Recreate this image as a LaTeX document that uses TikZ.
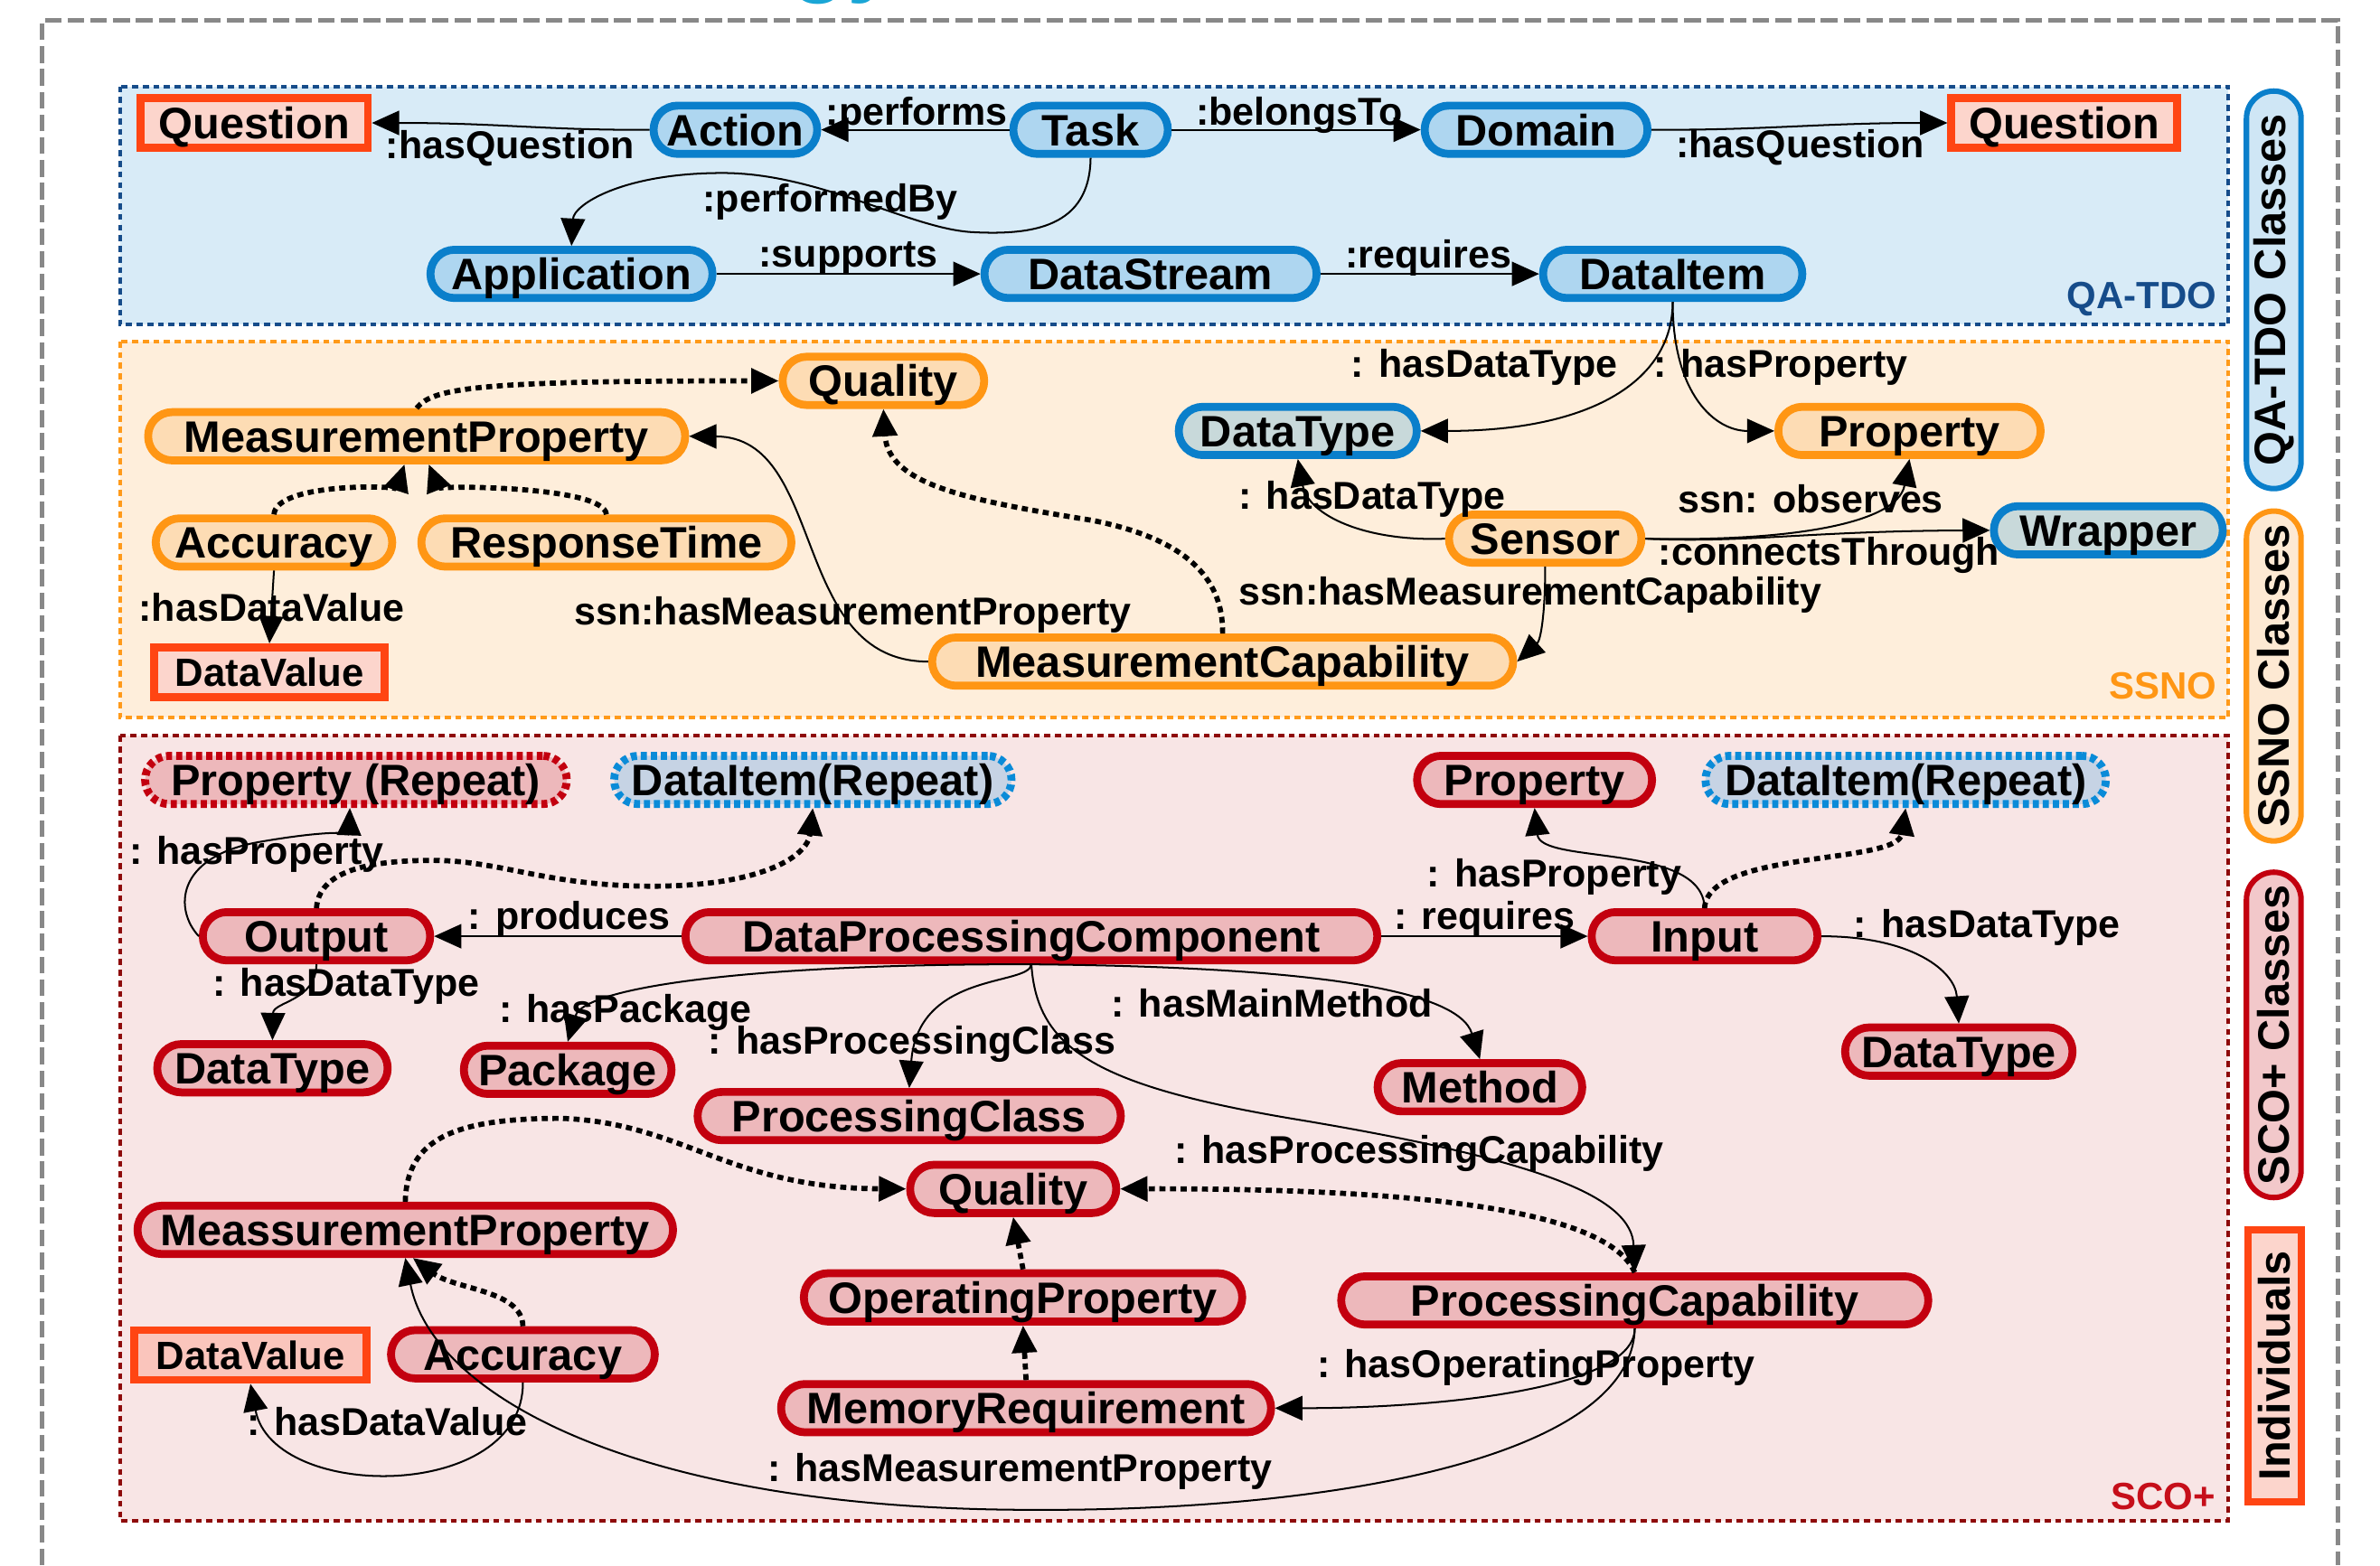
\documentclass[tikz,border=0pt]{standalone}
\usepackage{fontspec}
\setmainfont{Liberation Sans}
\usetikzlibrary{arrows.meta,calc}

\definecolor{blueB}{HTML}{0A7FCB}
\definecolor{blueF}{HTML}{AED6F0}
\definecolor{grayF}{HTML}{C8D9DA}
\definecolor{orangeB}{HTML}{FF9614}
\definecolor{orangeF}{HTML}{FDDCB4}
\definecolor{redB}{HTML}{C3000F}
\definecolor{redF}{HTML}{EDB8BB}
\definecolor{indB}{HTML}{FF4513}
\definecolor{indF}{HTML}{FCD5CC}
\definecolor{indFb}{HTML}{FAC5BC}
\definecolor{panB}{HTML}{D8EBF7}
\definecolor{panO}{HTML}{FEEEDB}
\definecolor{panR}{HTML}{F8E5E5}
\definecolor{panBline}{HTML}{164C8A}
\definecolor{panOline}{HTML}{FF9A1A}
\definecolor{panRline}{HTML}{8E0A0A}
\definecolor{scoText}{HTML}{C60F1A}
\definecolor{diRepF}{HTML}{C6D3E4}
\definecolor{diRepB}{HTML}{0A8BD8}
\definecolor{cyanT}{HTML}{1AA6D6}
\definecolor{frameG}{HTML}{888888}
\definecolor{legB}{HTML}{CFE6F5}
\definecolor{legO}{HTML}{FDE9D3}
\definecolor{legR}{HTML}{F2C8CA}

\tikzset{
  nd/.style={rectangle, rounded corners=7.9pt, line width=2.6pt, minimum height=15.9pt,
    inner sep=0pt, font=\fontsize{14.5}{16}\selectfont\bfseries, text height=10.4pt, text depth=0pt},
  bnode/.style={nd, draw=blueB, fill=blueF},
  gnode/.style={nd, draw=blueB, fill=grayF},
  onode/.style={nd, draw=orangeB, fill=orangeF},
  rnode/.style={nd, draw=redB, fill=redF},
  prnode/.style={nd, draw=redB, fill=redF, dash pattern=on 2pt off 1.3pt},
  dinode/.style={nd, draw=diRepB, fill=diRepF, dash pattern=on 2pt off 1.3pt},
  qnode/.style={rectangle, line width=2.6pt, draw=indB, fill=indF, minimum height=16.4pt,
    inner sep=0pt, font=\fontsize{14.5}{16}\selectfont\bfseries, text height=10.4pt, text depth=0pt},
  dvnode/.style={qnode, font=\fontsize{13}{15}\selectfont\bfseries, text height=9.3pt},
  lbl/.style={inner sep=0pt, font=\fontsize{12.8}{14}\selectfont\bfseries},
  plabel/.style={inner sep=0pt, font=\fontsize{12.5}{14}\selectfont\bfseries},
  rel/.style={line width=0.6pt, -{Triangle[length=9pt,width=8pt]}},
  drel/.style={line width=1.7pt, dash pattern=on 2pt off 1.5pt, -{Triangle[length=9pt,width=8pt]}},
  pdot/.style={line width=1.2pt, dash pattern=on 2pt off 1.5pt},
  legend/.style={rotate=90, rectangle, rounded corners=9pt, line width=1.8pt, minimum height=18pt,
    inner sep=0pt, font=\fontsize{14.5}{16}\selectfont\bfseries},
}

\begin{document}
\begin{tikzpicture}[x=0.5pt, y=-0.5pt]
\useasboundingbox (0,0) rectangle (1568,1031.45);

% title fragment at the top (cut off by the picture edge, as in the reference)
\begin{scope}
\clip (0,0) rectangle (1568,1031.45);
\node[anchor=base west, inner sep=0pt, text=cyanT, font=\fontsize{30}{30}\selectfont\bfseries] (ttl) at (521,-10) {gy};
\end{scope}

% outer frame
\draw[frameG, line width=1.5pt, dash pattern=on 5.5pt off 2pt] (27.5,1031.45) |- (1540.5,13.5) -- (1540.5,1031.45);

% panels
\fill[panB] (79,57) rectangle (1468,214);
\draw[panBline, pdot] (79,57) rectangle (1468,214);
\fill[panO] (79,225) rectangle (1468,473);
\draw[panOline, pdot] (79,225) rectangle (1468,473);
\fill[panR] (79,485) rectangle (1468,1002);
\draw[panRline, pdot] (79,485) rectangle (1468,1002);

\node[plabel, text=panBline] (tqa) at (1411,197) {QA-TDO};
\node[plabel, text=orangeB] (tssno) at (1425,452) {SSNO};
\node[plabel, text=scoText] (tsco) at (1425,986) {SCO+};

% legend
\node[legend, draw=blueB, fill=legB, minimum width=131pt] (lgqa) at (1498,191) {QA-TDO Classes};
\node[legend, draw=orangeB, fill=legO, minimum width=108.7pt] (lgssno) at (1498,445.5) {SSNO Classes};
\node[legend, draw=redB, fill=legR, minimum width=107.2pt] (lgsco) at (1498,682) {SCO+ Classes};
\node[legend, rounded corners=0pt, line width=2.4pt, draw=indB, fill=indF, minimum width=89.6pt, minimum height=17.4pt] (lgind) at (1498.5,900) {Individuals};

% ---------- QA-TDO nodes
\node[qnode, minimum width=74.9pt] (q1) at (167.5,81) {Question};
\node[bnode, minimum width=53.9pt] (action) at (484.5,85.5) {Action};
\node[bnode, minimum width=50.9pt] (task) at (718.5,85.5) {Task};
\node[bnode, minimum width=73.4pt] (domain) at (1012,85.5) {Domain};
\node[qnode, minimum width=74.4pt] (q2) at (1360,81) {Question};
\node[bnode, minimum width=92.9pt] (app) at (376.5,180.5) {Application};
\node[bnode, minimum width=109.4pt] (ds) at (758,180.5) {DataStream};
\node[bnode, minimum width=85.4pt] (di) at (1102,180.5) {DataItem};

% ---------- SSNO nodes
\node[onode, minimum width=66.4pt] (qual) at (582,251) {Quality};
\node[onode, minimum width=176.9pt] (mp) at (274.5,287.5) {MeasurementProperty};
\node[onode, minimum width=77.9pt] (acc) at (180.5,357.5) {Accuracy};
\node[onode, minimum width=121.9pt] (rt) at (399.5,357.5) {ResponseTime};
\node[dvnode, minimum width=75.9pt] (dv) at (177.5,443) {DataValue};
\node[onode, minimum width=191.4pt] (mc) at (805.5,436) {MeasurementCapability};
\node[gnode, minimum width=78.4pt] (dt1) at (855,284) {DataType};
\node[onode, minimum width=86.4pt] (prop) at (1258,284) {Property};
\node[onode, minimum width=63.4pt] (sensor) at (1018,355) {Sensor};
\node[gnode, minimum width=75.4pt] (wrapper) at (1389,349.5) {Wrapper};

% ---------- SCO+ nodes
\node[prnode, minimum width=138.9pt] (prr) at (234.5,514) {Property (Repeat)};
\node[dinode, minimum width=130.9pt] (dir) at (535.5,514) {DataItem(Repeat)};
\node[rnode, minimum width=77.4pt] (prop2) at (1011,514) {Property};
\node[dinode, minimum width=131.9pt] (dir2) at (1255.5,514) {DataItem(Repeat)};
\node[rnode, minimum width=74.9pt] (output) at (208.5,617) {Output};
\node[rnode, minimum width=227.9pt] (dpc) at (679.5,617) {DataProcessingComponent};
\node[rnode, minimum width=74.4pt] (input) at (1123,617) {Input};
\node[rnode, minimum width=75.9pt] (dtL) at (179.5,704) {DataType};
\node[rnode, minimum width=68.4pt] (pkg) at (374,705) {Package};
\node[rnode, minimum width=139.4pt] (pc) at (599,735.5) {ProcessingClass};
\node[rnode, minimum width=67.4pt] (method) at (975,716.5) {Method};
\node[rnode, minimum width=74.9pt] (dtR) at (1290.5,693) {DataType};
\node[rnode, minimum width=67.9pt] (qual2) at (667.5,783.5) {Quality};
\node[rnode, minimum width=176.4pt] (mpS) at (267,810.5) {MeassurementProperty};
\node[rnode, minimum width=144.4pt] (op) at (674,855) {OperatingProperty};
\node[rnode, minimum width=193.4pt] (pcap) at (1077,857) {ProcessingCapability};
\node[dvnode, fill=indFb, minimum width=76.4pt] (dvS) at (165,893) {DataValue};
\node[rnode, minimum width=86.9pt] (accS) at (344.5,892.5) {Accuracy};
\node[rnode, minimum width=161.4pt] (mr) at (676,928) {MemoryRequirement};

% ---------- QA-TDO edges
\draw[rel] (action.west) .. controls (360,86) and (330,81) .. (q1.east);
\draw[rel] (task.west) -- (action.east);
\draw[rel] (task.east) -- (domain.west);
\draw[rel] (domain.east) .. controls (1160,86) and (1200,81) .. (q2.west);
\draw[rel] (task.south) .. controls (718,150) and (680,155) .. (641,153)
   .. controls (600,151) and (540,114) .. (476,114)
   .. controls (410,114) and (378,135) .. (app.north);
\draw[rel] (app.east) -- (ds.west);
\draw[rel] (ds.east) -- (di.west);

% ---------- SSNO edges
\draw[rel] (di.south) .. controls (1102,250) and (1050,284) .. (dt1.east);
\draw[rel] (di.south) .. controls (1102,260) and (1130,284) .. (prop.west);
\draw[rel] (sensor.west) .. controls (900,357) and (862,340) .. (dt1.south);
\draw[rel] (sensor.east) .. controls (1180,357) and (1250,345) .. (prop.south);
\draw[rel] (sensor.east) .. controls (1150,358) and (1190,350) .. (wrapper.west);
\draw[rel] (sensor.south) .. controls (1018,405) and (1015,422) .. (mc.east);
\draw[rel] (mc.west) .. controls (520,436) and (545,288) .. (mp.east);
\draw[drel] (mp.north) .. controls (285,255) and (320,251) .. (qual.west);
\draw[drel] (acc.north) .. controls (182,318) and (262,320) .. ($(mp.south)+(-8,0)$);
\draw[drel] (rt.north) .. controls (398,320) and (288,320) .. ($(mp.south)+(8,0)$);
\draw[rel] (acc.south) -- (dv.north);
\draw[drel] (mc.north) .. controls (806,380) and (780,355) .. (720,343)
   .. controls (640,330) and (585,320) .. (qual.south);

% ---------- SCO+ edges
\draw[rel] (dpc.west) -- (output.east);
\draw[rel] (output.west) .. controls (115,600) and (115,565) .. (170,555)
   .. controls (210,548) and (230,548) .. ($(prr.south)+(-4,0)$);
\draw[drel] (output.north) .. controls (210,575) and (240,567) .. (285,567)
   .. controls (330,567) and (360,584) .. (430,584)
   .. controls (500,584) and (532,565) .. (dir.south);
\draw[rel] (output.south) .. controls (208,660) and (180,660) .. (dtL.north);
\draw[rel] (dpc.east) -- (input.west);
\draw[rel] (input.north) .. controls (1122,555) and (1015,570) .. (prop2.south);
\draw[drel] (input.north) .. controls (1125,560) and (1250,570) .. (dir2.south);
\draw[rel] (input.east) .. controls (1260,617) and (1288,640) .. (dtR.north);
\draw[rel] (dpc.south) .. controls (500,635) and (385,650) .. (pkg.north);
\draw[rel] (dpc.south) .. controls (678,650) and (605,640) .. (pc.north);
\draw[rel] (dpc.south) .. controls (850,637) and (960,650) .. (method.north);
\draw[rel] (dpc.south) .. controls (683,690) and (720,715) .. (850,737)
   .. controls (1020,765) and (1075,790) .. (pcap.north);
\draw[drel] (mpS.north) .. controls (268,750) and (300,737) .. (370,737)
   .. controls (450,740) and (480,783) .. (qual2.west);
\draw[drel] (pcap.north) .. controls (1060,800) and (950,783) .. (qual2.east);
\draw[drel] (op.north) -- (qual2.south);
\draw[drel] (mr.north) -- (op.south);
\draw[rel] (pcap.south) .. controls (1077,915) and (950,928) .. (mr.east);
\draw[rel] (pcap.south) .. controls (1075,960) and (880,996) .. (680,995)
   .. controls (420,995) and (285,920) .. (mpS.south);
\draw[drel] (accS.north) .. controls (344,850) and (300,850) .. ($(mpS.south)+(5,0)$);
\draw[rel] (accS.south) .. controls (345,990) and (180,990) .. (dvS.south);

% ---------- labels
\node[lbl] (lhq1) at (336,98) {:hasQuestion};
\node[lbl] (lperf) at (604,76) {:performs};
\node[lbl] (lbel) at (856,76) {:belongsTo};
\node[lbl] (lhq2) at (1186,97) {:hasQuestion};
\node[lbl] (lpb) at (547,133) {:performedBy};
\node[lbl] (lsup) at (559,170) {:supports};
\node[lbl] (lreq) at (941,170) {:requires};
\node[lbl] (lhdt1) at (978,242) {: hasDataType};
\node[lbl] (lhp1) at (1173,242) {: hasProperty};
\node[lbl] (lhdt2) at (904,329) {: hasDataType};
\node[lbl] (lobs) at (1193,329) {ssn: observes};
\node[lbl] (lct) at (1205,366) {:connectsThrough};
\node[lbl] (lhmc) at (1008,392) {ssn:hasMeasurementCapability};
\node[lbl] (lhmp) at (562,405) {ssn:hasMeasurementProperty};
\node[lbl] (lhdv) at (179,400) {:hasDataValue};
\node[lbl] (lprod) at (375,606) {: produces};
\node[lbl] (lhp2) at (169,563) {: hasProperty};
\node[lbl] (lhdt3) at (228,650) {: hasDataType};
\node[lbl] (lreq2) at (978,606) {: requires};
\node[lbl] (lhp3) at (1024,578) {: hasProperty};
\node[lbl] (lhdt4) at (1309,611) {: hasDataType};
\node[lbl] (lpkg) at (412,667) {: hasPackage};
\node[lbl] (lpcl) at (601,688) {: hasProcessingClass};
\node[lbl] (lmm) at (838,661) {: hasMainMethod};
\node[lbl] (lpcap) at (935,760) {: hasProcessingCapability};
\node[lbl] (lop) at (1012,901) {: hasOperatingProperty};
\node[lbl] (lmp2) at (672,970) {: hasMeasurementProperty};
\node[lbl] (ldv2) at (255,937) {: hasDataValue};

\end{tikzpicture}
\end{document}
